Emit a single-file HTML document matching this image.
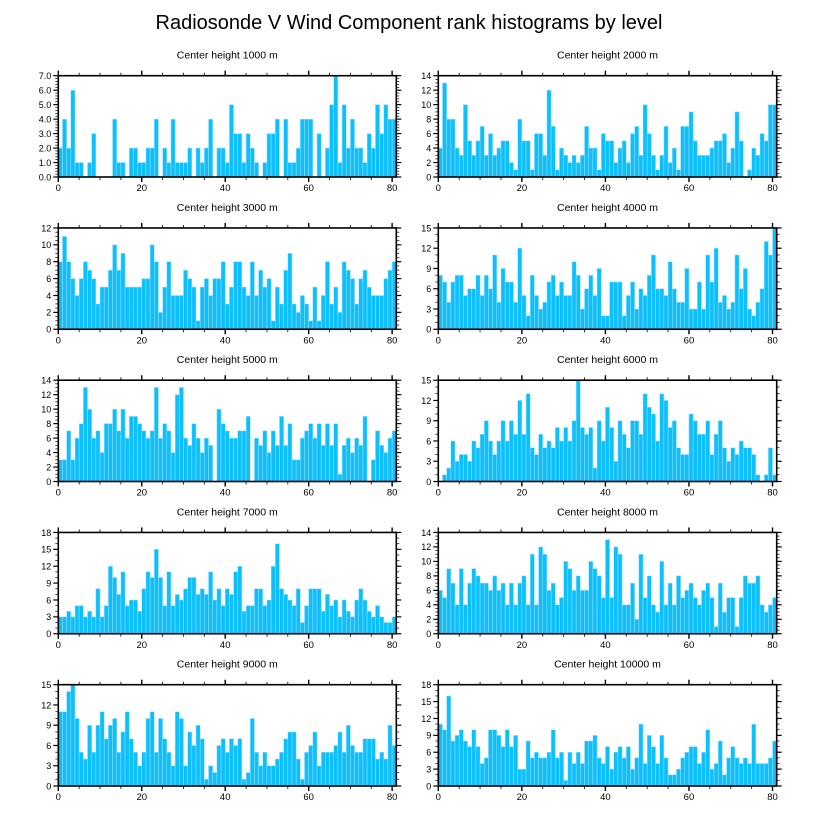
<!DOCTYPE html>
<html><head><meta charset="utf-8">
<style>
body{margin:0;background:#fff;}
svg{display:block;font-family:"Liberation Sans",sans-serif;}
</style></head>
<body>
<svg id="chart" width="818" height="824" viewBox="0 0 818 824">
<text x="409" y="29" text-anchor="middle" font-size="20" fill="#000">Radiosonde V Wind Component rank histograms by level</text>
</svg>
<script>
const titles = ["Center height 1000 m","Center height 2000 m","Center height 3000 m","Center height 4000 m","Center height 5000 m","Center height 6000 m","Center height 7000 m","Center height 8000 m","Center height 9000 m","Center height 10000 m"];
const xTicks = [0,20,40,60,80];
const yMax = [7,14,12,15,14,15,18,14,15,18];
const yStep = [1,2,2,3,2,3,3,2,3,3];
const h1000 = [2,4,2,6,1,1,0,1,3,0,0,0,0,4,1,1,0,2,2,1,1,2,2,4,0,2,1,4,1,1,1,2,0,2,1,2,4,0,2,2,1,5,3,3,1,3,2,1,0,1,3,3,4,0,4,1,1,2,4,4,4,0,3,0,2,5,7,1,5,2,4,2,2,1,3,2,5,3,5,4,4];
const h2000 = [4,13,8,8,4,3,10,5,3,5,7,3,6,3,4,5,5,2,1,8,5,5,1,6,6,3,12,7,1,4,3,2,3,2,3,7,4,4,1,6,5,5,2,4,5,2,6,7,3,10,6,3,1,3,7,2,4,1,7,7,9,5,3,3,3,4,5,5,6,2,4,9,5,0,1,4,3,6,5,10,10];
const h3000 = [8,11,8,6,4,6,8,7,6,3,5,5,7,10,7,9,5,5,5,5,6,6,10,8,2,5,8,4,4,4,7,6,5,1,5,6,4,6,6,8,3,5,8,8,5,4,8,4,7,5,6,1,5,3,7,9,3,2,4,3,1,5,1,4,8,3,5,2,8,7,6,3,6,7,5,4,4,4,6,7,8];
const h4000 = [8,7,4,7,8,8,5,6,6,8,5,8,6,11,4,9,7,7,4,12,5,2,8,5,3,4,7,8,5,7,5,5,10,8,3,6,8,5,9,2,2,7,7,7,2,5,7,3,6,5,8,11,6,6,5,10,6,4,4,9,3,3,7,3,11,7,12,4,5,3,4,11,6,9,3,2,4,6,13,11,15];
const h5000 = [3,3,7,3,6,8,13,10,6,7,4,8,8,10,7,10,6,9,9,8,7,6,7,13,6,8,7,4,12,13,6,5,8,6,4,6,5,0,10,8,7,6,6,7,7,9,0,6,5,7,4,7,5,9,5,8,3,3,6,7,8,6,8,5,8,5,8,1,5,6,4,6,5,9,0,3,7,5,4,6,7];
const h6000 = [0,1,2,6,3,4,4,3,6,5,7,9,6,4,6,9,6,9,7,12,7,13,5,4,7,5,6,5,8,6,8,6,9,15,8,7,8,2,9,6,11,8,3,9,7,5,9,9,7,13,11,10,6,13,12,8,9,5,4,4,10,9,7,7,9,4,7,9,5,3,5,4,6,5,5,4,1,0,1,5,1];
const h7000 = [3,3,4,3,5,5,3,4,3,8,3,5,12,10,7,11,5,6,6,4,8,11,10,15,10,5,11,5,7,6,8,10,10,7,8,7,11,6,8,5,8,7,11,12,4,5,5,8,8,5,6,12,16,8,7,6,5,8,2,5,8,8,8,4,7,5,6,3,6,4,3,6,8,6,4,3,5,3,2,2,3];
const h8000 = [6,5,9,7,4,9,4,7,9,8,7,7,6,8,6,7,4,7,4,7,8,4,11,4,12,11,6,7,4,5,10,9,6,8,6,6,10,9,8,5,13,5,12,11,4,4,7,2,11,5,8,4,3,10,4,7,4,8,5,6,7,5,4,6,7,5,1,7,3,5,5,1,5,8,7,7,8,4,3,4,5];
const h9000 = [11,11,14,15,10,5,4,9,5,9,11,7,9,10,5,8,11,7,5,3,5,10,11,5,10,7,5,3,11,10,3,8,6,9,7,1,3,2,6,7,5,7,6,7,1,2,10,5,3,5,3,3,4,5,7,8,8,4,1,5,6,8,3,5,5,5,6,8,5,9,6,5,5,7,7,7,4,5,4,9,6];
const h10000 = [11,10,16,8,9,10,8,7,10,7,4,5,10,10,9,7,10,7,9,3,3,8,5,6,5,5,6,10,5,6,1,6,4,6,4,8,8,9,5,4,7,3,6,7,5,7,3,5,11,4,9,7,4,9,5,2,2,3,5,6,7,7,4,6,10,3,4,8,2,5,7,5,4,5,4,11,4,4,4,5,8];
const series = [h1000,h2000,h3000,h4000,h5000,h6000,h7000,h8000,h9000,h10000];

const NS = "http://www.w3.org/2000/svg";
const svg = document.getElementById('chart');
const X_MAX = 81;
function mk(tag, attrs, parent){ const e=document.createElementNS(NS,tag); for(const k in attrs) e.setAttribute(k,attrs[k]); (parent||svg).appendChild(e); return e; }

for(let p=0;p<10;p++){
  const col=p%2, row=Math.floor(p/2);
  const L = col===0 ? 58.3 : 438.3;
  const R = col===0 ? 396.3 : 776.7;
  const T = 75.7 + row*152.25;
  const B = T + 101.3;
  const xs = v => L + (v/X_MAX)*(R-L);
  const ys = v => B - (v/yMax[p])*(B-T);
  const g = mk('g',{});
  
  
  const t = mk('text',{x:(L+R)/2,y:T-17,'text-anchor':'middle','font-size':'10.5',fill:'#000'},g);
  t.textContent = titles[p];
  
  
  const data = series[p];
  for(let i=0;i<data.length && i<X_MAX;i++){
    if(data[i]<=0) continue;
    const r = mk('rect',{x:xs(i),y:ys(data[i]),width:xs(i+1)-xs(i),height:B-ys(data[i]),fill:'#0dc0fc',stroke:'#9fe3ff','stroke-width':'0.5'},g);
    
    
  }
  const frame = mk('rect',{x:L,y:T,width:R-L,height:B-T,fill:'none',stroke:'#000','stroke-width':'1.6'},g);
  
  
  // x ticks
  for(let v=0; v<=X_MAX; v+=5){
    const major = v%20===0;
    const len = major?5:3;
    const x = xs(v);
    mk('line',{x1:x,x2:x,y1:B,y2:B+len,stroke:'#000','stroke-width':major?1.4:0.8},g);
    mk('line',{x1:x,x2:x,y1:T,y2:T-len,stroke:'#000','stroke-width':major?1.4:0.8},g);
  }
  xTicks.forEach(v=>{
    const tl = mk('text',{x:xs(v),y:B+14,'text-anchor':'middle','font-size':'9.5',fill:'#000'},g);
    tl.textContent = v;
    
    
  });
  // y ticks
  const minor = yStep[p]/ (yStep[p]===3?3:(yStep[p]===2?4:5));
  for(let v=0; v<=yMax[p]+1e-6; v+=minor){
    const isMajor = Math.abs(v/yStep[p]-Math.round(v/yStep[p]))<1e-6;
    const len = isMajor?5:3;
    const y = ys(v);
    mk('line',{x1:L,x2:L-len,y1:y,y2:y,stroke:'#000','stroke-width':isMajor?1.2:0.7},g);
    mk('line',{x1:R,x2:R+len,y1:y,y2:y,stroke:'#000','stroke-width':isMajor?1.2:0.7},g);
  }
  for(let v=0; v<=yMax[p]; v+=yStep[p]){
    const tl = mk('text',{x:L-7,y:ys(v)+3.3,'text-anchor':'end','font-size':'9',fill:'#000'},g);
    tl.textContent = p===0 ? v.toFixed(1) : v;
    
    
  }
}
</script>
</body></html>
